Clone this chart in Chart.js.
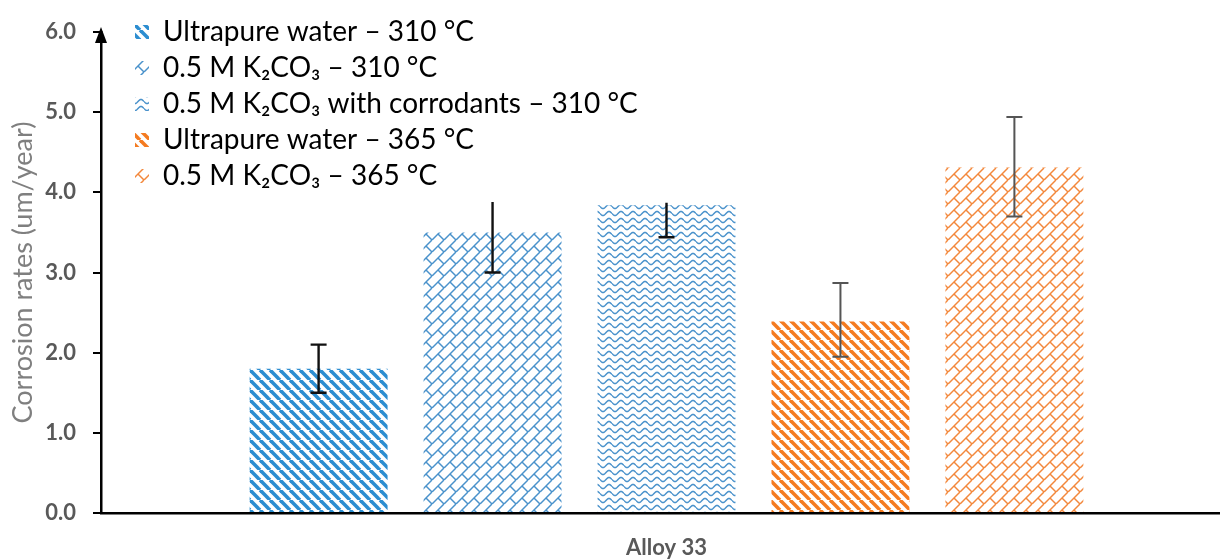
<!DOCTYPE html>
<html>
<head>
<meta charset="utf-8">
<script src="https://cdn.jsdelivr.net/npm/chart.js@4.4.1/dist/chart.umd.min.js"></script>
<style>
  html, body { margin: 0; padding: 0; background: #fff; overflow: hidden; }
  #wrap { width: 1232px; height: 560px; }
</style>
</head>
<body>
<div id="wrap"><canvas id="grafico" width="1232" height="560"></canvas></div>
<script>
// dados
const categorias = ['Alloy 33'];
const series = [
  'Ultrapure water – 310 °C',
  '0.5 M K₂CO₃ – 310 °C',
  '0.5 M K₂CO₃ with corrodants – 310 °C',
  'Ultrapure water – 365 °C',
  '0.5 M K₂CO₃ – 365 °C'
];
const taxas = [1.80, 3.50, 3.84, 2.39, 4.31];
const erroMin = [1.50, 3.00, 3.44, 1.95, 3.70];
const erroMax = [2.10, 3.88, 3.87, 2.87, 4.94];
const yTicks = [0, 1, 2, 3, 4, 5, 6];

const AZUL = '#2c8dd0';
const AZUL_CLARO = '#4a92cb';
const LARANJA = '#f47b20';
const LARANJA_CLARO = '#f3883c';

function tile(w, h, desenha) {
  const c = document.createElement('canvas');
  c.width = w; c.height = h;
  const g = c.getContext('2d');
  desenha(g, w, h);
  return g.createPattern(c, 'repeat');
}

function listras(cor) {
  return tile(10, 10, (g) => {
    g.strokeStyle = cor;
    g.lineWidth = 3.6;
    for (const k of [-10, 0, 10]) {
      g.beginPath(); g.moveTo(k, 0); g.lineTo(k + 10, 10); g.stroke();
    }
  });
}

function tijolos(cor) {
  return tile(12, 12, (g) => {
    g.strokeStyle = cor;
    g.lineWidth = 1.5;
    for (const k of [0, 12, 24]) {
      g.beginPath(); g.moveTo(k, 0); g.lineTo(k - 12, 12); g.stroke();
    }
    g.beginPath(); g.moveTo(6, 6); g.lineTo(12, 12); g.stroke();
    g.beginPath(); g.moveTo(-6, -6); g.lineTo(0, 0); g.stroke();
  });
}

function ondas(cor) {
  return tile(12, 7, (g) => {
    g.strokeStyle = cor;
    g.lineWidth = 1.5;
    g.beginPath();
    for (let x = 0; x <= 12; x += 0.5) {
      const y = 3.5 + 2 * Math.sin(2 * Math.PI * x / 12);
      if (x === 0) g.moveTo(x, y); else g.lineTo(x, y);
    }
    g.stroke();
  });
}

const preenchimentos = [
  listras(AZUL), tijolos(AZUL_CLARO), ondas(AZUL_CLARO), listras(LARANJA), tijolos(LARANJA_CLARO)
];
const corErro = ['#111', '#111', '#111', '#555', '#555'];
const capaTopo = [true, false, false, true, true]; // no original as barras 2 e 3 nao tem traco em cima

const extras = {
  id: 'extras',
  beforeDraw(chart) {
    const lg = chart.legend;
    const dx = 127 - lg.left, dy = 10 - lg.top;
    lg.left += dx; lg.right += dx; lg.top += dy; lg.bottom += dy;
  },
  afterDatasetsDraw(chart) {
    const ctx = chart.ctx;
    const y = chart.scales.y;
    ctx.save();
    series.forEach((_, i) => {
      const bar = chart.getDatasetMeta(i).data[0];
      const y1 = y.getPixelForValue(erroMin[i]);
      const y2 = y.getPixelForValue(erroMax[i]);
      ctx.strokeStyle = corErro[i];
      ctx.lineWidth = i < 3 ? 2.4 : 2;
      ctx.beginPath();
      ctx.moveTo(bar.x, y1); ctx.lineTo(bar.x, y2);
      ctx.moveTo(bar.x - 8, y1); ctx.lineTo(bar.x + 8, y1);
      if (capaTopo[i]) { ctx.moveTo(bar.x - 8, y2); ctx.lineTo(bar.x + 8, y2); }
      ctx.stroke();
    });
    // seta no topo do eixo y
    const ax = chart.chartArea.left;
    const topo = y.getPixelForValue(6);
    ctx.fillStyle = '#000';
    ctx.beginPath();
    ctx.moveTo(ax, topo - 5);
    ctx.lineTo(ax - 6, topo + 11);
    ctx.lineTo(ax + 6, topo + 11);
    ctx.closePath();
    ctx.fill();
    ctx.restore();
  }
};

new Chart(document.getElementById('grafico'), {
  type: 'bar',
  data: {
    labels: categorias,
    datasets: series.map((nome, i) => ({
      label: nome,
      data: [taxas[i]],
      backgroundColor: preenchimentos[i],
      borderWidth: 0
    }))
  },
  options: {
    responsive: false,
    animation: false,
    devicePixelRatio: 1,
    categoryPercentage: 0.769,
    barPercentage: 0.793,
    layout: { padding: { top: 32, left: 0, right: 0, bottom: 0 } },
    plugins: {
      tooltip: { enabled: false },
      legend: {
        position: 'chartArea',
        align: 'start',
        labels: {
          boxWidth: 14,
          boxHeight: 14,
          padding: 8,
          color: '#000',
          font: { family: 'Lato, "Noto Sans", sans-serif', size: 28 }
        }
      }
    },
    scales: {
      x: {
        afterFit: (s) => { s.height = 47; },
        grid: { display: true, drawOnChartArea: false, drawTicks: false },
        border: { display: true, color: '#000', width: 2.5 },
        ticks: {
          color: '#595959',
          padding: 22,
          font: { family: 'Lato, sans-serif', size: 22, weight: 'bold' }
        }
      },
      y: {
        min: 0,
        max: 6,
        afterFit: (s) => { s.width = 101; },
        afterBuildTicks: (s) => { s.ticks = yTicks.map(v => ({ value: v })); },
        grid: { display: true, drawOnChartArea: false, drawTicks: true, tickLength: 8, color: '#000', lineWidth: 2 },
        border: { display: true, color: '#000', width: 2.5 },
        ticks: {
          color: '#595959',
          padding: 17,
          font: { family: 'Lato, sans-serif', size: 22, weight: 'bold' },
          callback: (v) => Number(v).toFixed(1)
        },
        title: {
          display: true,
          text: 'Corrosion rates (um/year)',
          color: '#7f7f7f',
          padding: { top: 7, bottom: 0 },
          font: { family: 'Lato, sans-serif', size: 27 }
        }
      }
    }
  },
  plugins: [extras]
});
</script>
</body>
</html>
